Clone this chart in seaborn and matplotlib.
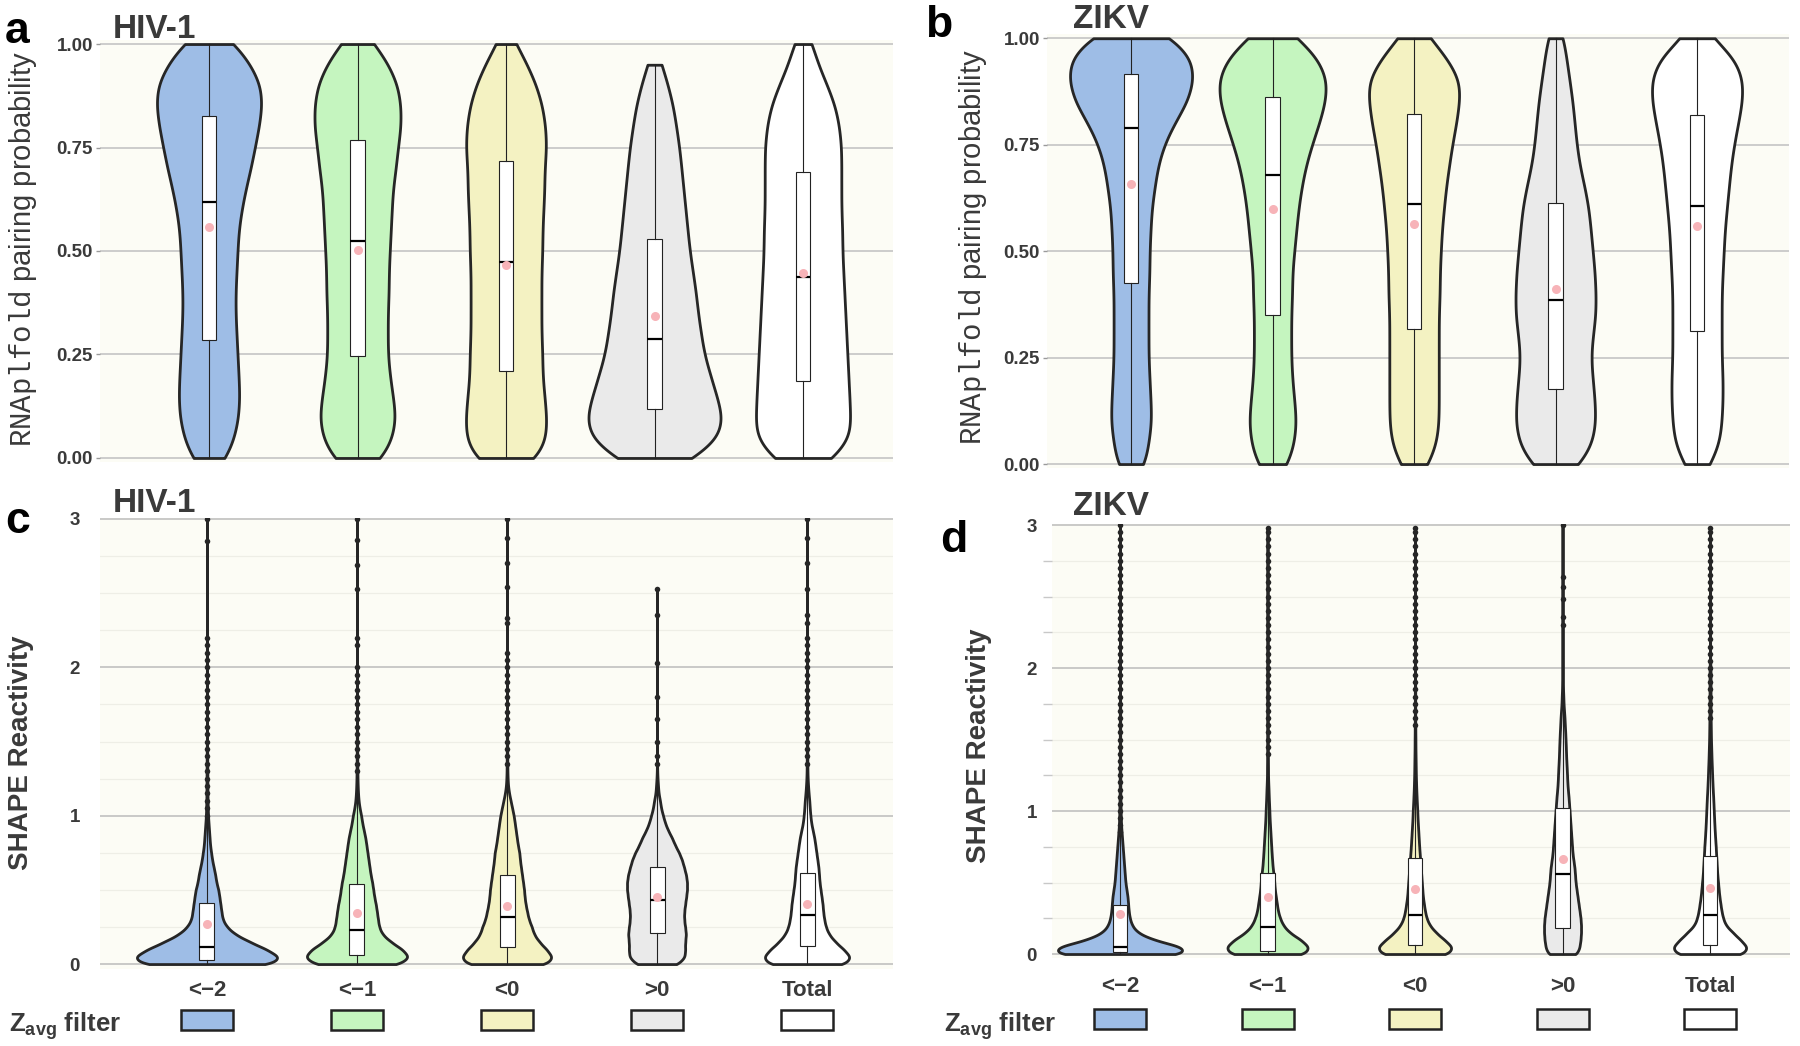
import numpy as np
import pandas as pd
import matplotlib
matplotlib.use("Agg")
import matplotlib.pyplot as plt
import matplotlib.transforms as mtransforms
from matplotlib.patches import Rectangle
import seaborn as sns

# ---------------- data ----------------
FILTERS = ["<\u22122", "<\u22121", "<0", ">0", "Total"]
FILL = ["#9EBDE6", "#C5F5BF", "#F4F2C2", "#EAEAEA", "#FFFFFF"]

# value levels at which violin half-widths (px) were read
LEVELS_AB = [0.00, 0.05, 0.10, 0.15, 0.20, 0.25, 0.30, 0.35, 0.40, 0.45, 0.50,
             0.55, 0.60, 0.65, 0.70, 0.75, 0.80, 0.85, 0.90, 0.95, 1.00]
LEVELS_CD = [0.00, 0.05, 0.10, 0.15, 0.20, 0.25, 0.30, 0.35, 0.40, 0.45,
             0.50, 0.55, 0.60, 0.65, 0.70, 0.75, 0.80, 0.85, 0.90, 0.95,
             1.00, 1.05, 1.10, 1.15, 1.20, 1.25, 1.30, 1.35, 1.40, 1.45,
             1.50, 1.55, 1.60, 1.65, 1.70, 1.75, 1.80, 1.85, 1.90, 1.95, 2.00]

# panel a: HIV-1 RNAplfold pairing probability
HIV_PROB_LT2 = [17, 25, 29, 30, 29, 28, 27, 26, 26, 27, 28, 29, 32, 36, 41, 45, 49, 52, 51, 41, 26]
HIV_PROB_LT1 = [25, 35, 38, 35, 32, 30, 30, 30, 31, 31, 32, 33, 34, 35, 38, 40, 43, 43, 40, 31, 17]
HIV_PROB_LT0 = [32, 40, 40, 38, 36, 36, 35, 35, 35, 35, 36, 36, 37, 38, 38, 40, 39, 36, 30, 21, 10]
HIV_PROB_GT0 = [39, 63, 66, 60, 54, 48, 45, 42, 40, 37, 34, 32, 30, 28, 26, 24, 21, 18, 13, 7, 0]
HIV_PROB_TOT = [31, 47, 47, 46, 45, 44, 43, 42, 41, 40, 39, 39, 38, 38, 38, 38, 36, 32, 24, 15, 9]
HIV_PROB_Q1 = [0.285, 0.247, 0.209, 0.118, 0.185]
HIV_PROB_MED = [0.618, 0.523, 0.474, 0.287, 0.437]
HIV_PROB_Q3 = [0.826, 0.768, 0.718, 0.529, 0.692]
HIV_PROB_MEAN = [0.558, 0.503, 0.467, 0.344, 0.446]
HIV_PROB_WLO = [0.0, 0.0, 0.0, 0.0, 0.0]
HIV_PROB_WHI = [1.0, 1.0, 1.0, 0.95, 1.0]

# panel b: ZIKV RNAplfold pairing probability
ZIKV_PROB_LT2 = [14, 17, 20, 19, 18, 17, 17, 17, 17, 18, 18, 19, 20, 23, 26, 32, 42, 55, 61, 60, 42]
ZIKV_PROB_LT1 = [15, 21, 23, 21, 19, 18, 18, 18, 19, 19, 21, 23, 25, 28, 32, 38, 45, 51, 53, 45, 25]
ZIKV_PROB_LT0 = [14, 22, 24, 24, 24, 24, 24, 24, 25, 25, 26, 27, 29, 31, 34, 37, 41, 44, 45, 33, 16]
ZIKV_PROB_GT0 = [25, 37, 40, 39, 37, 35, 37, 40, 40, 39, 37, 35, 33, 29, 24, 21, 19, 17, 14, 11, 8]
ZIKV_PROB_TOT = [13, 22, 24, 25, 25, 24, 24, 24, 24, 25, 26, 27, 29, 31, 33, 36, 40, 44, 45, 38, 16]
ZIKV_PROB_Q1 = [0.426, 0.351, 0.317, 0.176, 0.313]
ZIKV_PROB_MED = [0.789, 0.678, 0.610, 0.385, 0.605]
ZIKV_PROB_Q3 = [0.916, 0.863, 0.823, 0.612, 0.820]
ZIKV_PROB_MEAN = [0.657, 0.600, 0.563, 0.412, 0.560]
ZIKV_PROB_WLO = [0.0, 0.0, 0.0, 0.0, 0.0]
ZIKV_PROB_WHI = [1.0, 1.0, 1.0, 1.0, 1.0]

# panel c: HIV-1 SHAPE reactivity
HIV_SHAPE_LT2 = [66, 70, 57, 41, 27, 19, 15, 14, 13, 12, 11, 9, 8, 6.5, 5, 4, 3, 2.5, 2, 1.5,
                 1, 0.8, 0.6, 0.5, 0.5, 0.4, 0.4, 0.3, 0.3, 0.2, 0.1, 0.1, 0.1, 0.1, 0.1, 0.1,
                 0.1, 0.1, 0.1, 0.1, 0.1]
HIV_SHAPE_LT1 = [43, 50, 43, 32, 24, 21, 20, 19, 18, 16.5, 15.5, 14.5, 13, 12, 11, 10, 9, 8, 6.5, 5,
                 4, 2.5, 1.5, 1, 0.7, 0.5, 0.4, 0.3, 0.3, 0.2, 0.2, 0.2, 0.1, 0.1, 0.1, 0.1,
                 0.1, 0.1, 0.1, 0.1, 0.1]
HIV_SHAPE_LT0 = [41, 44, 38, 31, 26, 24, 21, 19.5, 18, 17, 16.5, 15.5, 14.5, 13.5, 12.5, 12, 10.5,
                 9.5, 8.5, 7.5, 6.5, 5, 3.5, 2, 1, 0.6, 0.4, 0.3, 0.3, 0.2, 0.2, 0.2, 0.1, 0.1,
                 0.1, 0.1, 0.1, 0.1, 0.1, 0.1, 0.1]
HIV_SHAPE_GT0 = [22, 28, 28, 28, 29, 28, 27, 27, 28, 29, 30, 30, 29, 27, 25, 22, 18, 15, 11, 8,
                 6, 4, 3, 1.5, 1, 0.5, 0.2, 0.1, 0.1, 0, 0.1, 0, 0, 0.1, 0, 0, 0.1, 0, 0, 0, 0]
HIV_SHAPE_TOT = [39, 42, 35, 27, 21, 18, 16.5, 15.5, 15, 14, 13, 12, 11.5, 11, 10, 9, 8, 7, 5.5, 4,
                 3.2, 2.6, 2.2, 1.5, 1, 0.6, 0.4, 0.3, 0.3, 0.2, 0.2, 0.2, 0.1, 0.1, 0.1, 0.1,
                 0.1, 0.1, 0.1, 0.1, 0.1]
HIV_TAIL_LT2 = [2.05, 2.10, 2.15, 2.20, 2.85, 3.00]
HIV_TAIL_LT1 = [2.15, 2.20, 2.53, 2.69, 2.86, 3.00]
HIV_TAIL_LT0 = [2.05, 2.10, 2.30, 2.33, 2.54, 2.70, 2.87, 3.00]
HIV_TAIL_GT0 = [2.03, 2.35, 2.53]
HIV_TAIL_TOT = [2.05, 2.10, 2.15, 2.20, 2.30, 2.35, 2.53, 2.70, 2.87, 3.00]
HIV_SHAPE_Q1 = [0.030, 0.058, 0.112, 0.211, 0.121]
HIV_SHAPE_MED = [0.115, 0.229, 0.315, 0.431, 0.330]
HIV_SHAPE_Q3 = [0.411, 0.539, 0.600, 0.652, 0.611]
HIV_SHAPE_MEAN = [0.272, 0.342, 0.391, 0.454, 0.402]
HIV_SHAPE_WLO = [0.0, 0.0, 0.0, 0.0, 0.0]
HIV_SHAPE_WHI = [0.98, 1.26, 1.33, 1.30, 1.34]

# panel d: ZIKV SHAPE reactivity
ZIKV_SHAPE_LT2 = [62, 58, 30, 16, 11, 9, 8, 7.5, 7, 6, 5, 4.5, 4, 3.5, 3, 2.5, 2, 1.5, 1, 0.8,
                  0.6, 0.5, 0.4, 0.3, 0.3, 0.3, 0.3, 0.2, 0.2, 0.2, 0.2, 0.2, 0.2, 0.2, 0.2, 0.2,
                  0.1, 0.1, 0.1, 0.1, 0.1]
ZIKV_SHAPE_LT1 = [38, 40, 32, 21, 15, 12, 10, 9, 8, 7, 6.5, 6, 5, 4.5, 4, 3.6, 3.2, 2.8, 2.4, 2,
                  1.8, 1.5, 1.2, 1, 0.7, 0.5, 0.5, 0.4, 0.4, 0.3, 0.3, 0.3, 0.3, 0.2, 0.2, 0.2,
                  0.2, 0.2, 0.2, 0.1, 0.1]
ZIKV_SHAPE_LT0 = [34, 36, 28, 20, 14, 11, 9.5, 8.5, 7.5, 7, 6.5, 6, 5.5, 5, 4.5, 4, 3.6, 3.2, 2.8,
                  2.4, 2.2, 1.8, 1.5, 1.2, 1, 0.8, 0.7, 0.6, 0.5, 0.4, 0.4, 0.3, 0.3, 0.2, 0.2,
                  0.2, 0.2, 0.2, 0.1, 0.1, 0.1]
ZIKV_SHAPE_GT0 = [15, 17, 18, 18.5, 18.5, 18, 17, 16, 15, 14, 13, 12.5, 12, 11, 10, 9.5, 9, 8.5, 8,
                  7.5, 7, 6.5, 6, 5.3, 4.8, 4.5, 4.2, 3.8, 3.5, 3.3, 3, 2.7, 2.3, 2, 1.5, 1, 0.8,
                  0.5, 0.4, 0.3, 0.3]
ZIKV_SHAPE_TOT = [34, 36, 29, 22, 15, 12.5, 11, 10, 9, 8.3, 7.7, 7, 6.6, 6.2, 5.8, 5.5, 5, 4.6,
                  4.2, 3.9, 3.6, 3.3, 3, 2.6, 2.3, 2, 1.8, 1.5, 1.3, 1.1, 0.9, 0.8, 0.7, 0.6, 0.5,
                  0.5, 0.5, 0.5, 0.5, 0.5, 0.5]
ZIKV_TAIL_LT2 = [2.05, 2.10, 2.15, 2.20, 2.25, 2.30, 2.35, 2.40, 2.45, 2.50, 2.55, 2.60, 2.65,
                 2.70, 2.75, 2.80, 2.85, 2.90, 2.95, 3.00]
ZIKV_TAIL_LT1 = [2.05, 2.10, 2.15, 2.20, 2.25, 2.30, 2.35, 2.40, 2.45, 2.50, 2.55, 2.60, 2.65,
                 2.70, 2.75, 2.80, 2.85, 2.90, 2.95, 2.98]
ZIKV_TAIL_LT0 = [2.05, 2.10, 2.15, 2.20, 2.25, 2.30, 2.35, 2.40, 2.45, 2.50, 2.55, 2.60, 2.65,
                 2.70, 2.75, 2.80, 2.85, 2.90, 2.95, 2.98]
ZIKV_TAIL_GT0 = [2.05, 2.10, 2.15, 2.20, 2.25, 2.30, 2.36, 2.48, 2.57, 2.64, 3.00]
ZIKV_TAIL_TOT = [2.05, 2.10, 2.15, 2.20, 2.25, 2.30, 2.35, 2.40, 2.45, 2.50, 2.55, 2.60, 2.65,
                 2.70, 2.75, 2.80, 2.85, 2.90, 2.95, 2.98]
ZIKV_SHAPE_Q1 = [0.015, 0.020, 0.062, 0.179, 0.064]
ZIKV_SHAPE_MED = [0.050, 0.186, 0.271, 0.562, 0.271]
ZIKV_SHAPE_Q3 = [0.340, 0.564, 0.672, 1.020, 0.683]
ZIKV_SHAPE_MEAN = [0.280, 0.397, 0.454, 0.661, 0.459]
ZIKV_SHAPE_WLO = [0.0, 0.0, 0.0, 0.0, 0.0]
ZIKV_SHAPE_WHI = [0.83, 1.37, 1.59, 2.28, 1.61]

TICKS_AB = [0.00, 0.25, 0.50, 0.75, 1.00]
TICKLABELS_AB = ["0.00", "0.25", "0.50", "0.75", "1.00"]
TICKS_CD = [0, 1, 2, 3]
TICKLABELS_CD = ["0", "1", "2", "3"]
MINOR_CD = [0.25, 0.5, 0.75, 1.25, 1.5, 1.75, 2.25, 2.5, 2.75]

# ---------------- style ----------------
plt.rcParams["font.family"] = ["Liberation Sans", "DejaVu Sans"]
plt.rcParams["mathtext.fontset"] = "custom"
plt.rcParams["mathtext.rm"] = "Liberation Sans"
plt.rcParams["mathtext.bf"] = "Liberation Sans:bold"
plt.rcParams["mathtext.tt"] = "Liberation Mono"

W, H = 1800, 1046
TXT = "#3a3a3a"
BG = "#FCFCF5"
K = 10  # observations per px of half-width

fig = plt.figure(figsize=(W / 100, H / 100), dpi=100)
fig.patch.set_facecolor("white")


def build(levels, profiles, tails=None):
    frames = []
    for i, (name, prof) in enumerate(zip(FILTERS, profiles)):
        assert len(prof) == len(levels)
        counts = np.rint(np.asarray(prof, float) * K).astype(int)
        vals = np.repeat(np.asarray(levels, float), counts)
        if tails is not None:
            vals = np.concatenate([vals, np.asarray(tails[i], float)])
        frames.append(pd.DataFrame({"filter": name, "value": vals}))
    return pd.concat(frames, ignore_index=True)


def make_axes(l, r, t, b):
    ax = fig.add_axes([l / W, 1 - b / H, (r - l) / W, (b - t) / H])
    ax.set_facecolor(BG)
    for s in ax.spines.values():
        s.set_visible(False)
    return ax


def panel(ax, df, spacing_px, bw, q1, med, q3, wlo, whi, mean, xlim, ylim):
    stats = []
    for i, name in enumerate(FILTERS):
        sub = df[df["filter"] == name]
        v = sub["value"].to_numpy()
        _, c = np.unique(v, return_counts=True)
        # widest point of this violin = widest half-width
        width = 2 * (c.max() / K) / spacing_px
        sns.violinplot(data=sub, x="filter", y="value", order=FILTERS, color=FILL[i],
                       saturation=1, inner=None, cut=0, density_norm="width", width=width,
                       linewidth=2.0, linecolor="#262626", gridsize=900,
                       bw_method=lambda k: bw / k.dataset.std(), ax=ax)
        fl = np.unique(v[v > whi[i] + 1e-9])
        stats.append(dict(q1=q1[i], med=med[i], q3=q3[i], whislo=wlo[i], whishi=whi[i],
                          mean=mean[i], fliers=fl, label=name))
    ax.bxp(stats, positions=list(range(5)), widths=0.1, patch_artist=True,
           showmeans=True, showcaps=False, showfliers=True, manage_ticks=False,
           boxprops=dict(facecolor="white", edgecolor="#222222", linewidth=0.8),
           medianprops=dict(color="black", linewidth=1.6),
           whiskerprops=dict(color="#222222", linewidth=0.8),
           meanprops=dict(marker="o", markerfacecolor="#F7B3B8", markeredgecolor="none",
                          markersize=6.5),
           flierprops=dict(marker="o", markerfacecolor="#262626", markeredgecolor="none",
                           markersize=4),
           zorder=3)
    ax.set_xlim(*xlim)
    ax.set_ylim(*ylim)
    ax.set_xlabel("")
    ax.set_ylabel("")
    ax.set_axisbelow(True)


# ---------- panel a ----------
axa = make_axes(100, 893, 39.9, 462.1)
dfa = build(LEVELS_AB, [HIV_PROB_LT2, HIV_PROB_LT1, HIV_PROB_LT0, HIV_PROB_GT0, HIV_PROB_TOT])
panel(axa, dfa, 148.5, 0.035, HIV_PROB_Q1, HIV_PROB_MED, HIV_PROB_Q3, HIV_PROB_WLO,
      HIV_PROB_WHI, HIV_PROB_MEAN, (-0.734, 4.606), (-0.01, 1.01))

# ---------- panel b ----------
axb = make_axes(1047, 1789, 34.0, 468.3)
dfb = build(LEVELS_AB, [ZIKV_PROB_LT2, ZIKV_PROB_LT1, ZIKV_PROB_LT0, ZIKV_PROB_GT0, ZIKV_PROB_TOT])
panel(axb, dfb, 141.5, 0.035, ZIKV_PROB_Q1, ZIKV_PROB_MED, ZIKV_PROB_Q3, ZIKV_PROB_WLO,
      ZIKV_PROB_WHI, ZIKV_PROB_MEAN, (-0.594, 4.650), (-0.01, 1.01))

# ---------- panel c ----------
axc = make_axes(100, 893, 517.5, 968.5)
dfc = build(LEVELS_CD, [HIV_SHAPE_LT2, HIV_SHAPE_LT1, HIV_SHAPE_LT0, HIV_SHAPE_GT0, HIV_SHAPE_TOT],
            [HIV_TAIL_LT2, HIV_TAIL_LT1, HIV_TAIL_LT0, HIV_TAIL_GT0, HIV_TAIL_TOT])
panel(axc, dfc, 150.0, 0.03, HIV_SHAPE_Q1, HIV_SHAPE_MED, HIV_SHAPE_Q3, HIV_SHAPE_WLO,
      HIV_SHAPE_WHI, HIV_SHAPE_MEAN, (-0.713, 4.573), (-0.03, 3.01))

# ---------- panel d ----------
axd = make_axes(1052, 1790, 523.6, 958.3)
dfd = build(LEVELS_CD, [ZIKV_SHAPE_LT2, ZIKV_SHAPE_LT1, ZIKV_SHAPE_LT0, ZIKV_SHAPE_GT0, ZIKV_SHAPE_TOT],
            [ZIKV_TAIL_LT2, ZIKV_TAIL_LT1, ZIKV_TAIL_LT0, ZIKV_TAIL_GT0, ZIKV_TAIL_TOT])
panel(axd, dfd, 147.5, 0.03, ZIKV_SHAPE_Q1, ZIKV_SHAPE_MED, ZIKV_SHAPE_Q3, ZIKV_SHAPE_WLO,
      ZIKV_SHAPE_WHI, ZIKV_SHAPE_MEAN, (-0.461, 4.542), (-0.03, 3.01))

# ---------- axes cosmetics ----------
for ax in (axa, axb):
    ax.set_yticks(TICKS_AB)
    ax.set_yticklabels(TICKLABELS_AB, fontsize=13.5, fontweight="bold", color=TXT)
    ax.tick_params(axis="y", length=3, width=1, color="#9A9A9A", pad=2)
    ax.tick_params(axis="x", length=0, labelbottom=False)
    ax.grid(True, axis="y", color="#C4C4C4", linewidth=1.2)
    ax.grid(False, axis="x")

for ax, pad, mlen, spacing, yc in ((axc, 14.5, 0, 150.0, 1020), (axd, 10.8, 6.5, 147.5, 1019)):
    ax.set_yticks(TICKS_CD)
    ax.set_yticklabels(TICKLABELS_CD, fontsize=13.5, fontweight="bold", color=TXT)
    ax.set_yticks(MINOR_CD, minor=True)
    ax.tick_params(axis="y", which="major", length=0, pad=pad)
    ax.tick_params(axis="y", which="minor", length=mlen, width=1, color="#C8C8C8")
    ax.grid(True, axis="y", which="major", color="#C0C0C0", linewidth=1.2)
    ax.grid(True, axis="y", which="minor", color="#EEEEE6", linewidth=0.9)
    ax.grid(False, axis="x")
    ax.set_xticks(range(5))
    ax.set_xticklabels(FILTERS, fontsize=16, fontweight="bold", color=TXT)
    ax.tick_params(axis="x", length=0, pad=8 if ax is axc else 13)
    trans = mtransforms.blended_transform_factory(ax.transData, fig.transFigure)
    wdat = 52 / spacing
    for i in range(5):
        ax.add_patch(Rectangle((i - wdat / 2, 1 - (yc + 10) / H), wdat, 20 / H,
                               transform=trans, facecolor=FILL[i], edgecolor="#222222",
                               linewidth=1.8, clip_on=False))


def ftext(x, y, s, **kw):
    fig.text(x / W, 1 - y / H, s, **kw)


# panel letters
for (x, y, s) in ((5, 43, "a"), (925, 37, "b"), (5, 533, "c"), (940, 552, "d")):
    ftext(x, y, s, fontsize=32, fontweight="bold", color="black", va="baseline", ha="left")
# titles
for (x, y, s) in ((113, 38, "HIV-1"), (1073, 28, "ZIKV"), (113, 512, "HIV-1"), (1073, 515, "ZIKV")):
    ftext(x, y, s, fontsize=24, fontweight="bold", color=TXT, va="baseline", ha="left")
# y labels
ylab_ab = r"$\mathtt{RNAplfold}$ pairing probability"
ftext(23, 249, ylab_ab, fontsize=21, color=TXT, rotation=90, ha="center", va="center")
ftext(973, 247, ylab_ab, fontsize=21, color=TXT, rotation=90, ha="center", va="center")
ftext(21, 753, "SHAPE Reactivity", fontsize=20, fontweight="bold", color=TXT,
      rotation=90, ha="center", va="center")
ftext(979, 746, "SHAPE Reactivity", fontsize=20, fontweight="bold", color=TXT,
      rotation=90, ha="center", va="center")
# legend title
zlab = r"$\mathbf{Z}_{\mathbf{avg}}$" + " filter"
ftext(9, 1031, zlab, fontsize=18.5, fontweight="bold", color=TXT, va="baseline", ha="left")
ftext(944, 1031, zlab, fontsize=18.5, fontweight="bold", color=TXT, va="baseline", ha="left")

fig.savefig("out.png", dpi=100, facecolor="white")
